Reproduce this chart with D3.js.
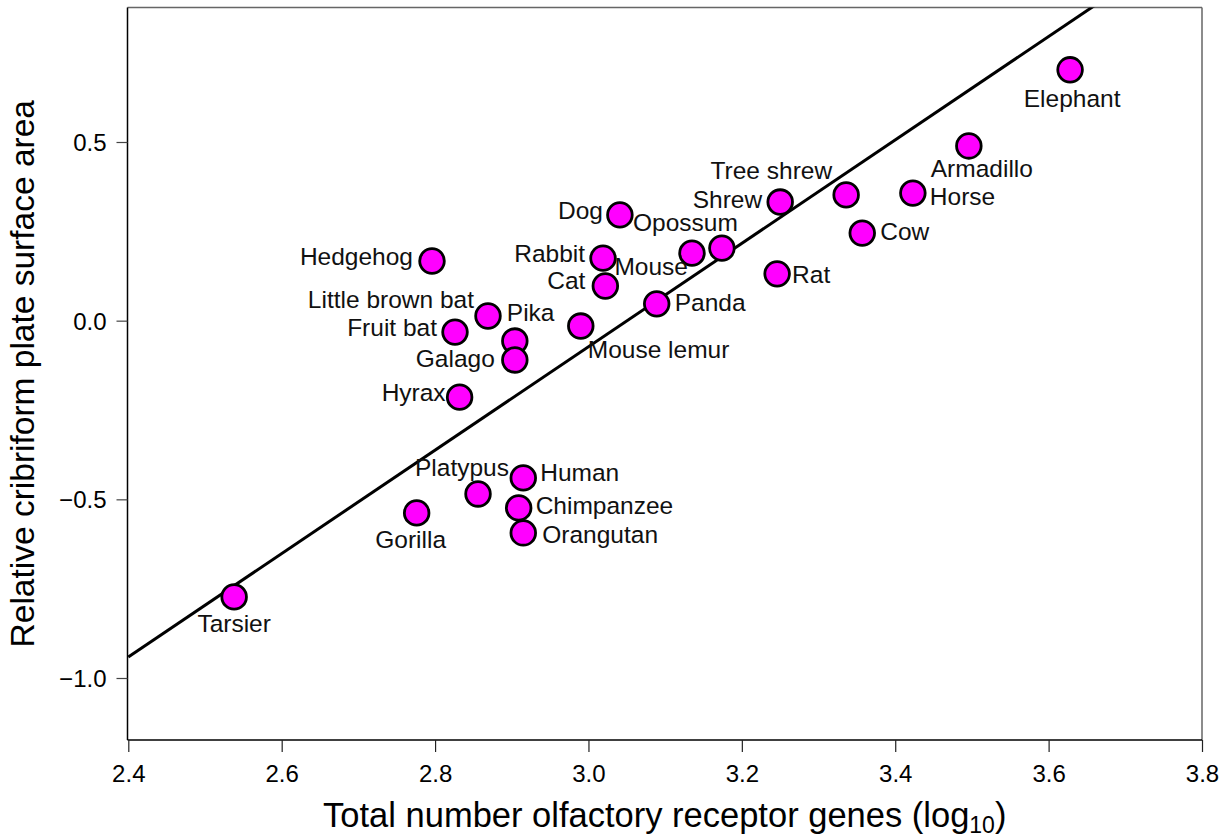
<!DOCTYPE html>
<html>
<head>
<meta charset="utf-8">
<script src="https://cdn.jsdelivr.net/npm/d3@7"></script>
<style>
  html, body { margin: 0; padding: 0; background: #fff; }
  svg { display: block; font-family: "Liberation Sans", Arial, Helvetica, sans-serif; }
</style>
</head>
<body>
<svg id="chart" width="1229" height="839"></svg>
<script>
// ---- data ----
const species = ["Elephant","Armadillo","Horse","Tree shrew","Shrew","Cow","Rat","Opossum","Mouse","Dog","Rabbit","Cat","Panda","Mouse lemur","Hedgehog","Little brown bat","Fruit bat","Pika","Galago","Hyrax","Human","Platypus","Chimpanzee","Orangutan","Gorilla","Tarsier"];
const orGenesLog10 = [3.628,3.496,3.423,3.336,3.250,3.357,3.246,3.174,3.135,3.041,3.019,3.022,3.089,2.990,2.796,2.869,2.826,2.904,2.904,2.832,2.915,2.856,2.909,2.915,2.776,2.538];
const cribriformArea = [0.702,0.489,0.357,0.352,0.332,0.245,0.131,0.203,0.189,0.296,0.175,0.097,0.047,-0.015,0.167,0.013,-0.032,-0.057,-0.110,-0.214,-0.440,-0.485,-0.524,-0.594,-0.538,-0.773];
const xTicks = [2.4,2.6,2.8,3.0,3.2,3.4,3.6,3.8];
const yTicks = [0.5,0.0,-0.5,-1.0];
const fitIntercept = -4.414;
const fitSlope = 1.447;

// ---- label layout (offset from point, text anchor) ----
const labelLayout = {
  "Elephant": [2, 37, "middle"],
  "Armadillo": [13, 31, "middle"],
  "Horse": [17, 12, "start"],
  "Tree shrew": [-14, -16, "end"],
  "Shrew": [-18, 6, "end"],
  "Cow": [18, 7, "start"],
  "Rat": [15, 9, "start"],
  "Opossum": [16, -17, "end"],
  "Mouse": [-4, 22, "end"],
  "Dog": [-17, 4, "end"],
  "Rabbit": [-18, 4, "end"],
  "Cat": [-20, 3, "end"],
  "Panda": [18, 7, "start"],
  "Mouse lemur": [7, 32, "start"],
  "Hedgehog": [-19, 4, "end"],
  "Little brown bat": [-14, -8, "end"],
  "Fruit bat": [-18, 4, "end"],
  "Pika": [-8, -20, "start"],
  "Galago": [-20, 7, "end"],
  "Hyrax": [-14, 4, "end"],
  "Human": [17, 3, "start"],
  "Platypus": [-16, -18, "middle"],
  "Chimpanzee": [17, 6, "start"],
  "Orangutan": [19, 10, "start"],
  "Gorilla": [-6, 35, "middle"],
  "Tarsier": [0, 35, "middle"]
};

const svg = d3.select("#chart");
const pL = 127.5, pR = 1202, pT = 7.5, pB = 740;

const x = d3.scaleLinear().domain([2.4, 3.8]).range([128.3, 1202]);
const y = d3.scaleLinear().domain([0.5, -1.0]).range([142, 678]);

// frame (top/right gray)
svg.append("line").attr("x1", pL).attr("x2", pR).attr("y1", pT).attr("y2", pT)
  .attr("stroke", "#666").attr("stroke-width", 1.5);
svg.append("line").attr("x1", pR).attr("x2", pR).attr("y1", pT).attr("y2", pB)
  .attr("stroke", "#666").attr("stroke-width", 1.5);

// clip
svg.append("defs").append("clipPath").attr("id", "plotclip")
  .append("rect").attr("x", pL).attr("y", pT).attr("width", pR - pL).attr("height", pB - pT);

// regression line
const xd = x.domain();
svg.append("g").attr("clip-path", "url(#plotclip)")
  .append("line")
  .attr("x1", x(xd[0])).attr("y1", y(fitIntercept + fitSlope * xd[0]))
  .attr("x2", x(xd[1])).attr("y2", y(fitIntercept + fitSlope * xd[1]))
  .attr("stroke", "#000").attr("stroke-width", 3);

// axes
const xAxis = d3.axisBottom(x).tickValues(xTicks).tickFormat(d3.format(".1f")).tickSize(12).tickSizeOuter(0);
const gx = svg.append("g").attr("transform", `translate(0,${pB})`).call(xAxis);
gx.select(".domain").attr("d", `M${pL},0H${pR}`).attr("stroke", "#000").attr("stroke-width", 1.5);
gx.selectAll(".tick line").attr("stroke", "#222").attr("stroke-width", 1.2);
gx.selectAll(".tick text").attr("font-size", 24).attr("fill", "#000").attr("y", 19).attr("dy", "0.95em")
  .attr("font-family", "Liberation Sans, Arial, sans-serif");

const yFmt = d => (d < 0 ? "\u2212" + d3.format(".1f")(-d) : d3.format(".1f")(d));
const yAxis = d3.axisLeft(y).tickValues(yTicks).tickFormat(yFmt).tickSize(11).tickSizeOuter(0);
const gy = svg.append("g").attr("transform", `translate(${pL},0)`).call(yAxis);
gy.select(".domain").attr("d", `M0,${pT}V${pB}`).attr("stroke", "#000").attr("stroke-width", 1.5);
gy.selectAll(".tick line").attr("stroke", "#444").attr("stroke-width", 1.2);
gy.selectAll(".tick text").attr("font-size", 24).attr("fill", "#000").attr("x", -21).attr("dy", "0.36em")
  .attr("font-family", "Liberation Sans, Arial, sans-serif");

// points
const data = species.map((s, i) => ({ name: s, x: orGenesLog10[i], y: cribriformArea[i] }));
svg.append("g").selectAll("circle").data(data).join("circle")
  .attr("cx", d => x(d.x)).attr("cy", d => y(d.y)).attr("r", 12.3)
  .attr("fill", "#ff00ff").attr("stroke", "#000").attr("stroke-width", 2.8);

// labels
svg.append("g").selectAll("text").data(data).join("text")
  .attr("x", d => x(d.x) + labelLayout[d.name][0])
  .attr("y", d => y(d.y) + labelLayout[d.name][1])
  .attr("text-anchor", d => labelLayout[d.name][2])
  .attr("font-size", 24.5).attr("fill", "#111")
  .text(d => d.name);

// axis titles
const xt = svg.append("text").attr("x", (pL + pR) / 2).attr("y", 827)
  .attr("text-anchor", "middle").attr("font-size", 34.5).attr("fill", "#000");
xt.append("tspan").text("Total number olfactory receptor genes (log");
xt.append("tspan").text("10").attr("font-size", 23).attr("dy", 6);
xt.append("tspan").text(")").attr("dy", -6);

svg.append("text")
  .attr("transform", `translate(34,${(pT + pB) / 2}) rotate(-90)`)
  .attr("text-anchor", "middle").attr("font-size", 33.5).attr("fill", "#000")
  .text("Relative cribriform plate surface area");
</script>
</body>
</html>
